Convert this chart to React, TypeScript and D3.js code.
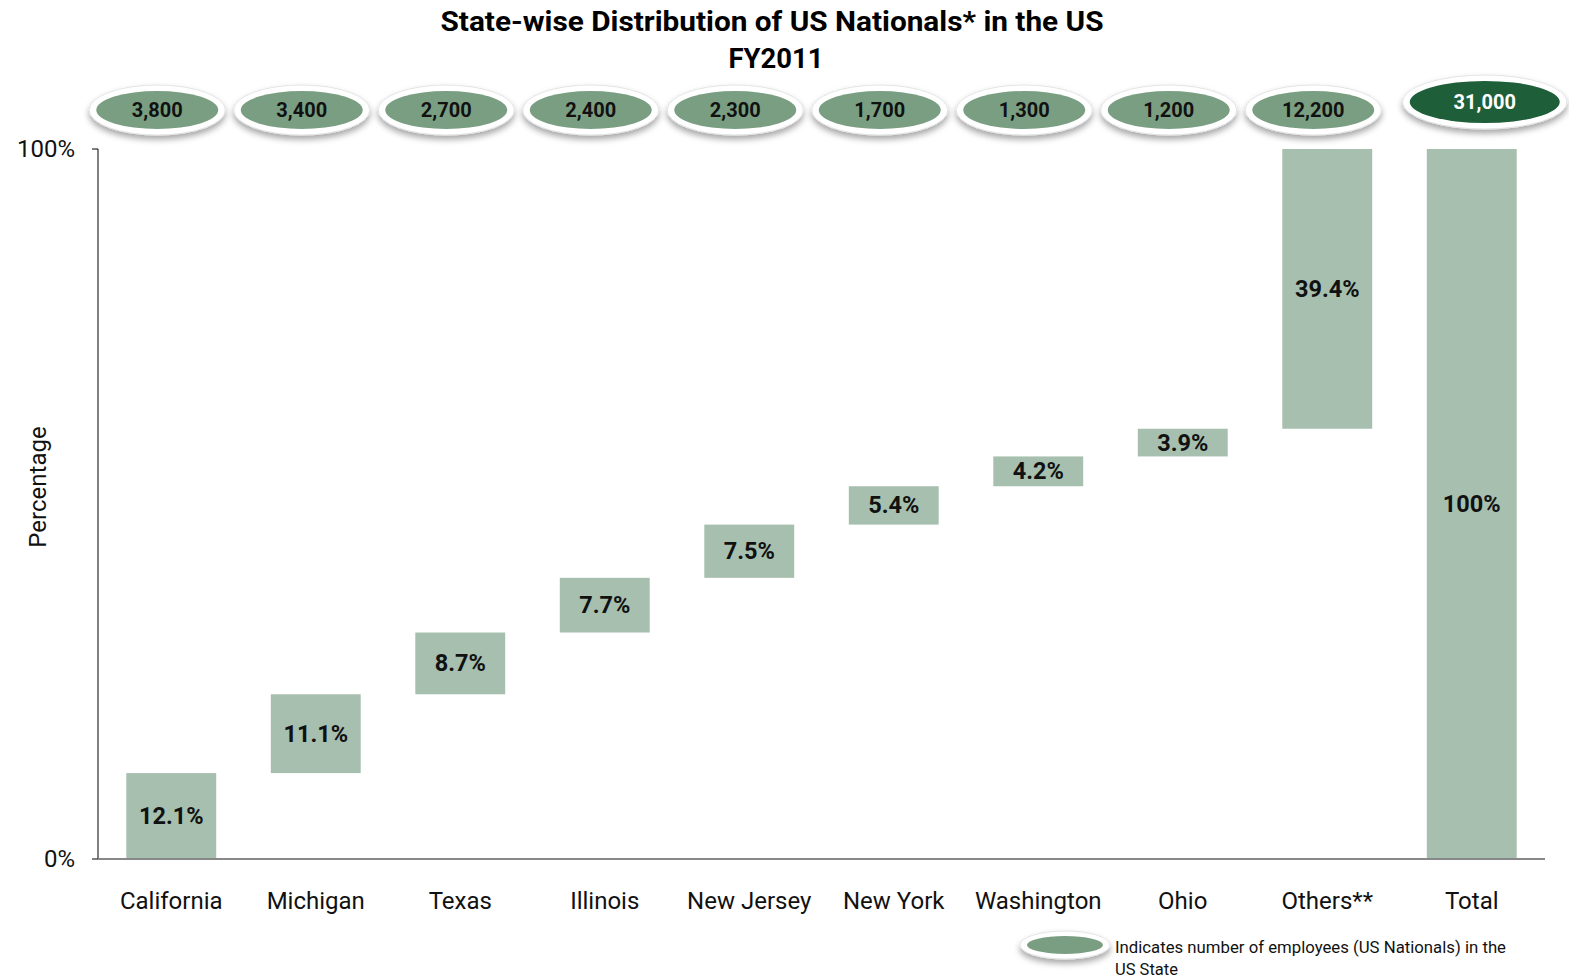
import * as d3 from 'd3';

const states = ['California', 'Michigan', 'Texas', 'Illinois', 'New Jersey', 'New York', 'Washington', 'Ohio', 'Others**', 'Total'];
const shares = [12.1, 11.1, 8.7, 7.7, 7.5, 5.4, 4.2, 3.9, 39.4, 100];
const employees = ['3,800', '3,400', '2,700', '2,400', '2,300', '1,700', '1,300', '1,200', '12,200', '31,000'];
const yTicks = [0, 100];

const W = 1569;
const H = 980;
const FONT = 'Roboto, "Open Sans", sans-serif';
const BAR = '#a6bfae';
const BUBBLE = '#7a9e82';
const BUBBLE_TOTAL = '#1e5f3a';

export default function App() {
  const x = d3.scaleBand<string>().domain(states).range([99, 1544]).paddingInner(0.378).paddingOuter(0.189);
  const y = d3.scaleLinear().domain([0, 100]).range([859, 149]);

  // waterfall: each state floats on the running total, Total starts at zero
  let run = 0;
  const bars = states.map((s, i) => {
    const isTotal = s === 'Total';
    const base = isTotal ? 0 : run;
    const top = isTotal ? shares[i] : run + shares[i];
    if (!isTotal) run = top;
    return { s, v: shares[i], base, top, isTotal, n: employees[i] };
  });

  return (
    <svg width={W} height={H} style={{ position: 'absolute', left: 0, top: 0, background: '#fff' }} fontFamily={FONT}>
      <defs>
        <filter id="sh" x="-20%" y="-30%" width="140%" height="180%">
          <feDropShadow dx="0" dy="4" stdDeviation="3" floodColor="#000" floodOpacity="0.35" />
        </filter>
      </defs>

      <text x={772} y={31} textAnchor="middle" fontSize={28} fontWeight="bold" textLength={663} lengthAdjust="spacingAndGlyphs">
        State-wise Distribution of US Nationals* in the US
      </text>
      <text x={776} y={68} textAnchor="middle" fontSize={28} fontWeight="bold" textLength={95} lengthAdjust="spacingAndGlyphs">
        FY2011
      </text>

      {bars.map((b) => (
        <rect key={b.s} x={x(b.s)} y={y(b.top)} width={x.bandwidth()} height={y(b.base) - y(b.top)} fill={BAR} />
      ))}
      {bars.map((b) => (
        <text key={b.s} x={x(b.s)! + x.bandwidth() / 2} y={(y(b.base) + y(b.top)) / 2 + 8} textAnchor="middle" fontSize={23.5} fontWeight="bold" fill="#111">
          {b.v === 100 ? '100%' : `${b.v.toFixed(1)}%`}
        </text>
      ))}

      {/* axes */}
      <line x1={98} x2={98} y1={y(100)} y2={y(0)} stroke="#000" strokeWidth={1} />
      <line x1={98} x2={1545} y1={y(0)} y2={y(0)} stroke="#888" strokeWidth={2} />
      {yTicks.map((t) => (
        <g key={t}>
          <line x1={92} x2={98} y1={y(t)} y2={y(t)} stroke="#000" />
          <text x={75} y={y(t) + 8} textAnchor="end" fontSize={24} fill="#111">{`${t}%`}</text>
        </g>
      ))}
      <text transform={`translate(46,${(y(0) + y(100)) / 2 - 17}) rotate(-90)`} textAnchor="middle" fontSize={24} fill="#111">
        Percentage
      </text>
      {states.map((s) => (
        <text key={s} x={x(s)! + x.bandwidth() / 2} y={909} textAnchor="middle" fontSize={24} fill="#111">{s}</text>
      ))}

      {/* employee-count bubbles */}
      {bars.map((b) => {
        const cx = x(b.s)! + x.bandwidth() / 2 + (b.isTotal ? 13 : -14);
        const cy = b.isTotal ? 102 : 110;
        const rx = b.isTotal ? 82 : 68;
        const ry = b.isTotal ? 27 : 25;
        return (
          <g key={b.s}>
            <ellipse cx={cx} cy={cy} rx={rx} ry={ry} fill="#fff" stroke="#e4e4e4" strokeWidth={1} filter="url(#sh)" />
            <ellipse cx={cx} cy={cy} rx={rx - 7} ry={ry - 6} fill={b.isTotal ? BUBBLE_TOTAL : BUBBLE} />
            <text x={cx} y={cy + 7} textAnchor="middle" fontSize={20} fontWeight="bold" fill={b.isTotal ? '#fff' : '#111'}>{b.n}</text>
          </g>
        );
      })}

      {/* legend */}
      <ellipse cx={1065} cy={945} rx={45} ry={14} fill="#fff" stroke="#e4e4e4" filter="url(#sh)" />
      <ellipse cx={1065} cy={945} rx={38} ry={9} fill={BUBBLE} />
      <text x={1115} y={953} fontSize={16.5} fill="#111" textLength={391} lengthAdjust="spacingAndGlyphs">Indicates number of employees (US Nationals) in the</text>
      <text x={1115} y={975} fontSize={16.5} fill="#111">US State</text>
    </svg>
  );
}
